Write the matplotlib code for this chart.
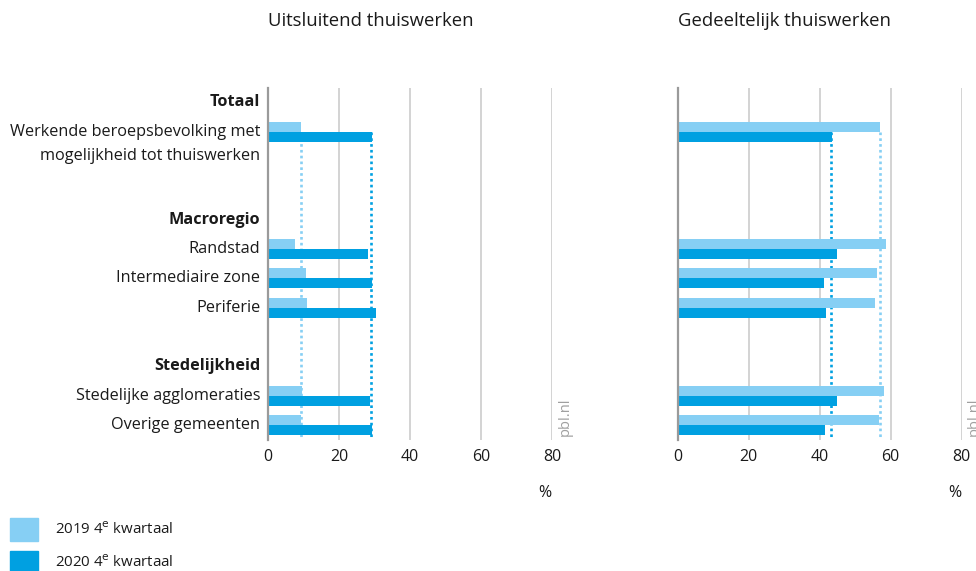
import matplotlib
matplotlib.use("Agg")
import matplotlib.pyplot as plt

plt.rcParams['font.family'] = ['Open Sans', 'DejaVu Sans']

# Data
rows = ["Totaal", "Werkende beroepsbevolking met\nmogelijkheid tot thuiswerken", "", "",
        "Macroregio", "Randstad", "Intermediaire zone", "Periferie", "",
        "Stedelijkheid", "Stedelijke agglomeraties", "Overige gemeenten"]
headers = ["Totaal", "Macroregio", "Stedelijkheid"]
categories = ["Werkende beroepsbevolking met\nmogelijkheid tot thuiswerken",
              "Randstad", "Intermediaire zone", "Periferie",
              "Stedelijke agglomeraties", "Overige gemeenten"]
excl_2019 = [9.2, 7.7, 10.6, 10.9, 9.5, 9.2]
excl_2020 = [29.2, 28.3, 29.4, 30.3, 28.6, 29.4]
part_2019 = [57.1, 58.6, 56.0, 55.7, 58.0, 56.6]
part_2020 = [43.5, 45.0, 41.3, 41.9, 45.0, 41.6]
ref_excl = [9.2, 29.0]
ref_part = [57.0, 43.1]
panel_titles = ["Uitsluitend thuiswerken", "Gedeeltelijk thuiswerken"]
xticks = [0, 20, 40, 60, 80]
series_labels = ["2019 4$^{\\mathrm{e}}$ kwartaal", "2020 4$^{\\mathrm{e}}$ kwartaal"]

c_light = "#86CFF4"
c_dark = "#00A0E1"
grid_c = "#d3d3d3"
spine_c = "#9a9a9a"
txt_c = "#1a1a1a"

n = len(rows)
ypos = {lab: n - 1 - i for i, lab in enumerate(rows) if lab}

fig = plt.figure(figsize=(9.76, 5.71), dpi=100)
W, H = 976, 571
ax_bottom = (H - 439.7) / H
ax_height = 352.2 / H
ax1 = fig.add_axes([268 / W, ax_bottom, 284 / W, ax_height])
ax2 = fig.add_axes([677.7 / W, ax_bottom, 284 / W, ax_height])

bh = 0.341
for ax, v19, v20, ref, title in [(ax1, excl_2019, excl_2020, ref_excl, panel_titles[0]),
                                  (ax2, part_2019, part_2020, ref_part, panel_titles[1])]:
    ys = [ypos[c] for c in categories]
    ax.barh([y + bh / 2 for y in ys], v19, height=bh, color=c_light, zorder=3)
    ax.barh([y - bh / 2 for y in ys], v20, height=bh, color=c_dark, zorder=3)
    ytop = ypos[categories[0]]
    ax.plot([ref[0], ref[0]], [ytop, -0.5], color=c_light, lw=1.9,
            linestyle=(0, (1, 1.2)), zorder=2, solid_capstyle='butt')
    ax.plot([ref[1], ref[1]], [ytop, -0.5], color=c_dark, lw=1.9,
            linestyle=(0, (1, 1.2)), zorder=2, solid_capstyle='butt')
    ax.set_xlim(0, 80)
    ax.set_ylim(-0.5, n - 0.5)
    ax.set_xticks(xticks)
    ax.set_xticklabels([str(t) for t in xticks], fontsize=11.5, color=txt_c)
    ax.tick_params(axis='x', length=0, pad=7)
    for t in xticks[1:]:
        ax.axvline(t, color=grid_c, lw=1.4, zorder=1)
    for s in ["top", "right", "bottom"]:
        ax.spines[s].set_visible(False)
    ax.spines["left"].set_color(spine_c)
    ax.spines["left"].set_linewidth(1.6)
    ax.spines["left"].set_zorder(4)
    ax.set_yticks([])
    ax.text(0, 1.19, title, transform=ax.transAxes, ha='left', va='center',
            fontsize=13.3, color=txt_c)
    ax.text(0.975, -0.15, "%", transform=ax.transAxes, ha='center', va='center',
            fontsize=11.5, color=txt_c)
    ax.text(1.045, 0.064, "pbl.nl", transform=ax.transAxes, ha='center', va='center',
            rotation=90, fontsize=10.5, color="#a0a0a0")

# Category labels on left panel
fs = 11.7
for lab, y in ypos.items():
    bold = lab in headers
    if "\n" in lab:
        first, second = lab.split("\n")
        ax1.text(-2.2, y, first, ha='right', va='center', fontsize=fs, color=txt_c)
        ax1.text(-2.2, y - 0.82, second, ha='right', va='center', fontsize=fs, color=txt_c)
    else:
        ax1.text(-2.2, y, lab, ha='right', va='center', fontsize=fs, color=txt_c,
                 fontweight='bold' if bold else 'normal')

# Legend
for i, (lab, col) in enumerate(zip(series_labels, [c_light, c_dark])):
    ytop = 518 + i * 33
    fig.patches.append(plt.Rectangle((10 / W, 1 - (ytop + 23) / H), 28 / W, 23 / H,
                                     transform=fig.transFigure, color=col))
    fig.text(55 / W, 1 - (ytop + 12) / H, lab, ha='left', va='center',
             fontsize=10.8, color=txt_c)

fig.savefig("out.png", dpi=100)
